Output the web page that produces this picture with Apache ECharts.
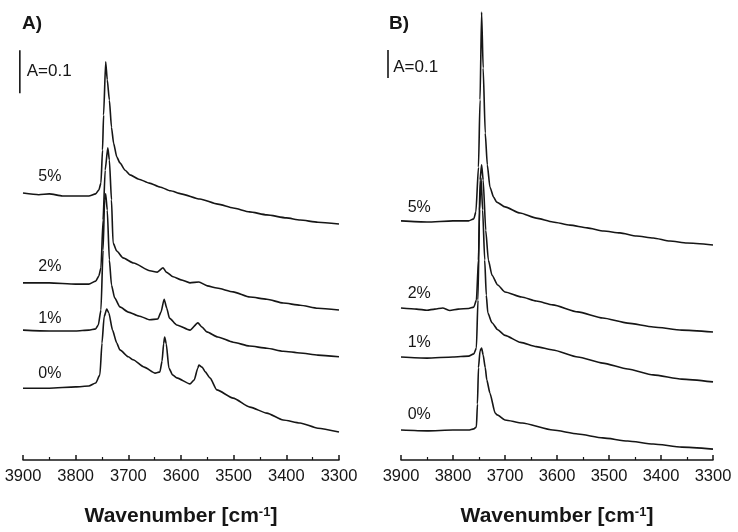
<!DOCTYPE html>
<html>
<head>
<meta charset="utf-8">
<script src="https://cdn.jsdelivr.net/npm/echarts@6/dist/echarts.min.js"></script>
<style>html,body{margin:0;padding:0;background:#fff;}#c{width:738px;height:532px;}</style>
</head>
<body>
<div id="c"></div>
<script>
// x range (wavenumber, cm-1), axis reversed
const xMin = 3300, xMax = 3900, xStep = 100;

// Panel A spectra [wavenumber, absorbance offset]
const panelA_5 = [[3900,0.621],[3870,0.617],[3850,0.619],[3825,0.614],[3800,0.614],[3775,0.614],[3762,0.619],[3756,0.628],[3752,0.644],[3749,0.721],[3747,0.802],[3743,0.926],[3740,0.884],[3736,0.837],[3732,0.774],[3728,0.737],[3722,0.705],[3716,0.691],[3706,0.674],[3697,0.663],[3680,0.653],[3660,0.644],[3640,0.635],[3620,0.626],[3600,0.619],[3564,0.607],[3530,0.595],[3501,0.586],[3470,0.577],[3437,0.570],[3400,0.563],[3374,0.558],[3340,0.553],[3300,0.549]];
const panelA_2 = [[3900,0.412],[3850,0.412],[3800,0.409],[3775,0.409],[3762,0.416],[3756,0.428],[3752,0.447],[3748,0.558],[3744,0.674],[3739,0.726],[3736,0.698],[3732,0.605],[3729,0.505],[3722,0.486],[3710,0.470],[3690,0.458],[3659,0.440],[3645,0.437],[3634,0.447],[3628,0.437],[3615,0.426],[3600,0.419],[3583,0.412],[3566,0.414],[3550,0.405],[3532,0.400],[3501,0.391],[3469,0.379],[3437,0.374],[3406,0.365],[3374,0.360],[3340,0.353],[3300,0.349]];
const panelA_1 = [[3900,0.302],[3850,0.300],[3800,0.300],[3775,0.302],[3762,0.305],[3757,0.314],[3752,0.349],[3748,0.488],[3745,0.605],[3743,0.619],[3740,0.581],[3736,0.465],[3732,0.407],[3726,0.377],[3716,0.356],[3700,0.344],[3680,0.335],[3659,0.326],[3644,0.328],[3638,0.344],[3632,0.374],[3627,0.353],[3622,0.330],[3608,0.314],[3583,0.302],[3568,0.319],[3560,0.309],[3551,0.298],[3530,0.286],[3501,0.274],[3470,0.265],[3437,0.260],[3406,0.253],[3374,0.249],[3340,0.244],[3300,0.240]];
const panelA_0 = [[3900,0.167],[3850,0.167],[3800,0.170],[3775,0.172],[3762,0.179],[3754,0.198],[3750,0.272],[3746,0.333],[3741,0.351],[3737,0.342],[3730,0.302],[3722,0.272],[3716,0.256],[3700,0.240],[3691,0.233],[3670,0.216],[3649,0.202],[3640,0.205],[3636,0.230],[3633,0.270],[3631,0.286],[3628,0.270],[3623,0.214],[3616,0.198],[3608,0.191],[3583,0.177],[3575,0.186],[3568,0.214],[3566,0.221],[3560,0.216],[3554,0.205],[3545,0.191],[3532,0.163],[3501,0.144],[3469,0.123],[3437,0.109],[3406,0.093],[3374,0.086],[3340,0.074],[3300,0.065]];

// Panel B spectra
const panelB_5 = [[3900,0.854],[3850,0.850],[3800,0.854],[3770,0.854],[3760,0.861],[3756,0.886],[3751,1.046],[3748,1.286],[3745,1.600],[3742,1.400],[3738,1.168],[3734,1.054],[3729,0.975],[3722,0.939],[3716,0.921],[3700,0.904],[3671,0.882],[3640,0.864],[3608,0.850],[3575,0.839],[3542,0.829],[3510,0.818],[3479,0.811],[3447,0.800],[3415,0.793],[3383,0.782],[3350,0.775],[3300,0.768]];
const panelB_2 = [[3900,0.543],[3870,0.539],[3850,0.535],[3835,0.539],[3820,0.543],[3806,0.534],[3790,0.539],[3770,0.541],[3760,0.546],[3755,0.571],[3751,0.714],[3748,1.000],[3745,1.054],[3742,1.000],[3737,0.820],[3732,0.714],[3725,0.660],[3714,0.625],[3700,0.600],[3668,0.582],[3640,0.568],[3608,0.554],[3560,0.529],[3512,0.507],[3464,0.489],[3415,0.475],[3360,0.464],[3300,0.457]];
const panelB_1 = [[3900,0.368],[3850,0.364],[3800,0.368],[3770,0.371],[3760,0.379],[3755,0.400],[3752,0.571],[3749,0.893],[3746,1.007],[3743,0.893],[3739,0.714],[3736,0.589],[3733,0.525],[3725,0.490],[3714,0.465],[3700,0.445],[3670,0.420],[3640,0.405],[3608,0.393],[3560,0.368],[3512,0.346],[3464,0.325],[3415,0.304],[3360,0.289],[3300,0.279]];
const panelB_0 = [[3900,0.107],[3850,0.104],[3800,0.107],[3770,0.107],[3760,0.111],[3755,0.118],[3753,0.200],[3751,0.330],[3748,0.390],[3745,0.400],[3742,0.375],[3738,0.330],[3735,0.286],[3729,0.239],[3719,0.168],[3715,0.161],[3700,0.143],[3667,0.132],[3608,0.107],[3560,0.093],[3512,0.079],[3464,0.068],[3415,0.057],[3360,0.046],[3300,0.039]];

// Curve labels [wavenumber, absorbance, text]
const labelsA = [[3849,0.658,'5%'],[3849,0.449,'2%'],[3849,0.330,'1%'],[3849,0.202,'0%']];
const labelsB = [[3865,0.900,'5%'],[3865,0.596,'2%'],[3865,0.418,'1%'],[3865,0.161,'0%']];

// Scale bars (A = 0.1) and their labels
const scaleA = [[3906,0.853],[3906,0.953]];
const scaleB = [[3925,1.364],[3925,1.464]];
const scaleLabelA = [3893,0.903,'A=0.1'];
const scaleLabelB = [3915,1.404,'A=0.1'];

const ink = '#161616';
const font = 'Liberation Sans, Arial, sans-serif';

function xAxis(i){
  return {
    type:'value', gridIndex:i, min:xMin, max:xMax, interval:xStep, inverse:true,
    axisLine:{onZero:false, lineStyle:{color:ink,width:1.5}},
    axisTick:{inside:true,length:5,lineStyle:{color:ink,width:1.5}},
    minorTick:{show:true,splitNumber:2,length:3,lineStyle:{color:ink,width:1.2}},
    axisLabel:{color:ink,fontSize:16.5,margin:8,fontFamily:font,formatter:v=>String(v)},
    splitLine:{show:false},
    name:'Wavenumber [cm{sup|-1}]', nameLocation:'middle', nameGap:46,
    nameTextStyle:{color:ink,fontSize:21,fontWeight:'bold',fontFamily:font,
      rich:{sup:{fontSize:13,fontWeight:'bold',fontFamily:font,color:ink,verticalAlign:'top',lineHeight:21}}}
  };
}
function yAxis(i,max){
  return {type:'value',gridIndex:i,min:0,max:max,show:false,splitLine:{show:false}};
}
function curve(data,i){
  return {type:'line',xAxisIndex:i,yAxisIndex:i,data:data,showSymbol:false,silent:true,
    smooth:0.2,smoothMonotone:'x',
    lineStyle:{color:ink,width:1.6},animation:false};
}

const chart = echarts.init(document.getElementById('c'),null,{renderer:'canvas'});
chart.setOption({
  backgroundColor:'#fff',
  animation:false,
  title:[
    {text:'A)',left:17,top:9,textStyle:{fontSize:19,fontWeight:'bold',color:ink,fontFamily:font}},
    {text:'B)',left:384,top:9,textStyle:{fontSize:19,fontWeight:'bold',color:ink,fontFamily:font}}
  ],
  grid:[
    {left:23,right:399,top:30,bottom:72},
    {left:401,right:25,top:5,bottom:72}
  ],
  xAxis:[xAxis(0),xAxis(1)],
  yAxis:[yAxis(0,1.0),yAxis(1,1.625)],
  series:[
    curve(panelA_5,0),curve(panelA_2,0),curve(panelA_1,0),curve(panelA_0,0),
    curve(panelB_5,1),curve(panelB_2,1),curve(panelB_1,1),curve(panelB_0,1)
  ]
});

// Annotations placed through the axes' own scales
function px(g,p){ return chart.convertToPixel({gridIndex:g},[p[0],p[1]]); }
const graphics = [];
function addLabels(list,g){
  list.forEach(d=>{
    const p = px(g,d);
    graphics.push({type:'text',x:p[0],y:p[1],silent:true,
      style:{text:d[2],fill:ink,font:'16px '+font,align:'center',verticalAlign:'middle'}});
  });
}
function addBar(bar,g){
  const a = px(g,bar[0]), b = px(g,bar[1]);
  graphics.push({type:'line',silent:true,shape:{x1:a[0],y1:a[1],x2:b[0],y2:b[1]},
    style:{stroke:ink,lineWidth:1.6}});
}
function addScaleLabel(d,g){
  const p = px(g,d);
  graphics.push({type:'text',x:p[0],y:p[1],silent:true,
    style:{text:d[2],fill:ink,font:'17px '+font,align:'left',verticalAlign:'middle'}});
}
addLabels(labelsA,0); addLabels(labelsB,1);
addBar(scaleA,0); addBar(scaleB,1);
addScaleLabel(scaleLabelA,0); addScaleLabel(scaleLabelB,1);
chart.setOption({graphic:graphics});
</script>
</body>
</html>
